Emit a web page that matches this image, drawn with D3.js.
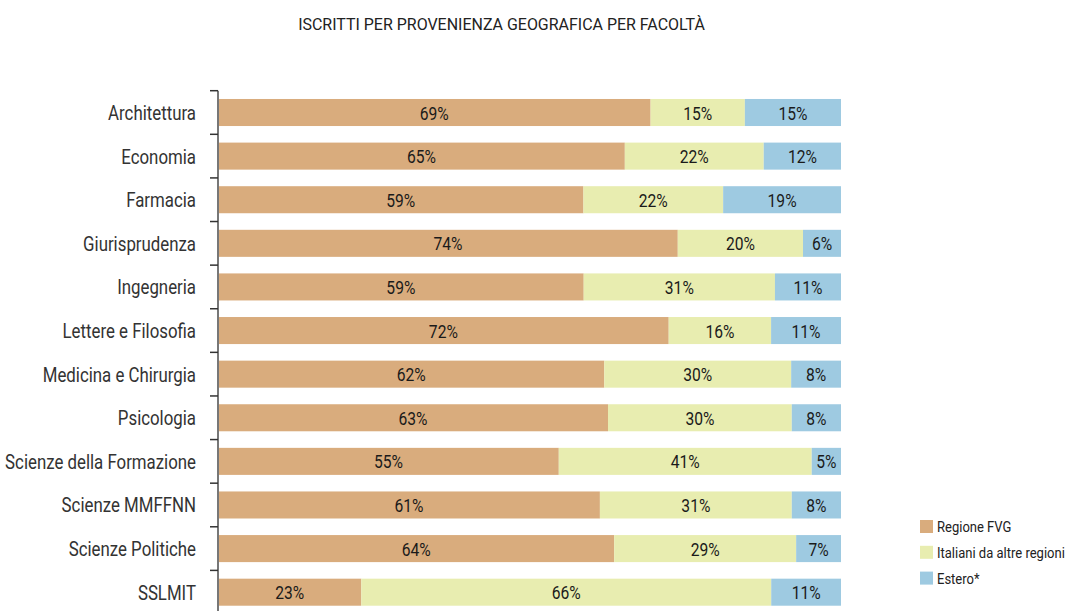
<!DOCTYPE html>
<html>
<head>
<meta charset="utf-8">
<script src="https://cdn.jsdelivr.net/npm/d3@7"></script>
<style>
  body { margin: 0; background: #fff; }
  svg text { font-family: Roboto, "Noto Sans", sans-serif; }
</style>
</head>
<body>
<div id="chart"></div>
<script>
// Facoltà (categories)
const faculties = ["Architettura", "Economia", "Farmacia", "Giurisprudenza", "Ingegneria",
    "Lettere e Filosofia", "Medicina e Chirurgia", "Psicologia", "Scienze della Formazione",
    "Scienze MMFFNN", "Scienze Politiche", "SSLMIT"];

// Shares in %
const regioneFVG = [69.3, 65.3, 58.6, 73.8, 58.7, 72.2, 62.0, 62.6, 54.7, 61.3, 63.6, 23.0];
const italianiAltre = [15.1, 22.3, 22.4, 20.1, 30.7, 16.4, 30.0, 29.5, 40.6, 30.8, 29.2, 65.8];
const estero = [15.4, 12.4, 18.9, 6.1, 10.6, 11.2, 8.0, 7.9, 4.7, 7.9, 7.2, 11.2];

const seriesNames = ["Regione FVG", "Italiani da altre regioni", "Estero*"];
const seriesColors = ["#d9ac7d", "#e8edb0", "#9ecae1"];
const title = "ISCRITTI PER PROVENIENZA GEOGRAFICA PER FACOLTÀ";

const width = 1066, height = 611;

const svg = d3.select("#chart").append("svg")
    .attr("width", width)
    .attr("height", height);

// no condensed face installed: squeeze the text horizontally instead
function condense(sel, sx) {
    sel.each(function () {
        const t = d3.select(this);
        const px = +t.attr("x") || 0, py = +t.attr("y") || 0;
        t.attr("x", 0).attr("y", 0)
            .attr("transform", `translate(${px},${py}) scale(${sx},1)`);
    });
}
// scale factor so that a sample string has the width seen in the original
function squeeze(size, sample, target) {
    const t = svg.append("text").style("font-size", size + "px").text(sample);
    const w = t.node().getComputedTextLength();
    t.remove();
    return target / w;
}

// build rows for the stack
const rows = faculties.map((f, i) => {
    const tot = regioneFVG[i] + italianiAltre[i] + estero[i];
    return {
        facolta: f,
        s0: regioneFVG[i] / tot * 100,
        s1: italianiAltre[i] / tot * 100,
        s2: estero[i] / tot * 100,
        raw: [regioneFVG[i], italianiAltre[i], estero[i]]
    };
});

const stacked = d3.stack().keys(["s0", "s1", "s2"])(rows);

const x = d3.scaleLinear().domain([0, 100]).range([218, 841]);
const y = d3.scaleBand()
    .domain(faculties)
    .range([90.7, 614])
    .paddingInner(0.38)
    .paddingOuter(0.19);

// title
svg.append("text")
    .attr("x", 501.5)
    .attr("y", 30)
    .attr("text-anchor", "middle")
    .style("font-size", "17px")
    .style("fill", "#222")
    .text(title)
    .call(condense, squeeze(17, title, 407));

// bars
const layers = svg.selectAll(".layer")
    .data(stacked)
    .enter().append("g")
    .attr("class", "layer")
    .attr("fill", (d, i) => seriesColors[i]);

layers.selectAll("rect")
    .data(d => d)
    .enter().append("rect")
    .attr("x", d => x(d[0]))
    .attr("y", d => y(d.data.facolta))
    .attr("width", d => x(d[1]) - x(d[0]))
    .attr("height", y.bandwidth());

// value labels, centred in each segment
const valSx = squeeze(19, "15%", 29);
stacked.forEach((layer, k) => {
    svg.append("g").selectAll("text")
        .data(layer)
        .enter().append("text")
        .attr("x", d => (x(d[0]) + x(d[1])) / 2)
        .attr("y", d => y(d.data.facolta) + y.bandwidth() / 2 + 7)
        .attr("text-anchor", "middle")
        .style("font-size", "19px")
        .style("fill", "#1a1a1a")
        .text(d => Math.round(d.data.raw[k]) + "%")
        .call(condense, valSx);
});

// y axis: labels only, ticks drawn at band boundaries
const catSx = squeeze(20, "Architettura", 88);
const yAxis = svg.append("g")
    .attr("transform", "translate(218,0)")
    .call(d3.axisLeft(y).tickSize(0).tickPadding(22));
yAxis.select(".domain").remove();
yAxis.selectAll("text")
    .attr("dy", null)
    .attr("y", 7.5)
    .style("font-size", "20px")
    .style("fill", "#333")
    .call(condense, catSx);

svg.append("line")
    .attr("x1", 218).attr("x2", 218)
    .attr("y1", y.range()[0]).attr("y2", height)
    .attr("stroke", "#777")
    .attr("stroke-width", 2);

svg.append("g").selectAll("line")
    .data(faculties)
    .enter().append("line")
    .attr("x1", 210).attr("x2", 218)
    .attr("y1", d => y(d) - y.step() * y.paddingInner() / 2)
    .attr("y2", d => y(d) - y.step() * y.paddingInner() / 2)
    .attr("stroke", "#333")
    .attr("stroke-width", 1.5);

// legend
const legSx = squeeze(15, "Italiani da altre regioni", 128);
const legend = svg.append("g")
    .attr("transform", "translate(920,520)");

const items = legend.selectAll("g")
    .data(seriesNames)
    .enter().append("g")
    .attr("transform", (d, i) => `translate(0,${i * 25.8})`);

items.append("rect")
    .attr("width", 13)
    .attr("height", 13)
    .attr("fill", (d, i) => seriesColors[i]);

items.append("text")
    .attr("x", 17)
    .attr("y", 12)
    .style("font-size", "15px")
    .style("fill", "#222")
    .text(d => d)
    .call(condense, legSx);
</script>
</body>
</html>
